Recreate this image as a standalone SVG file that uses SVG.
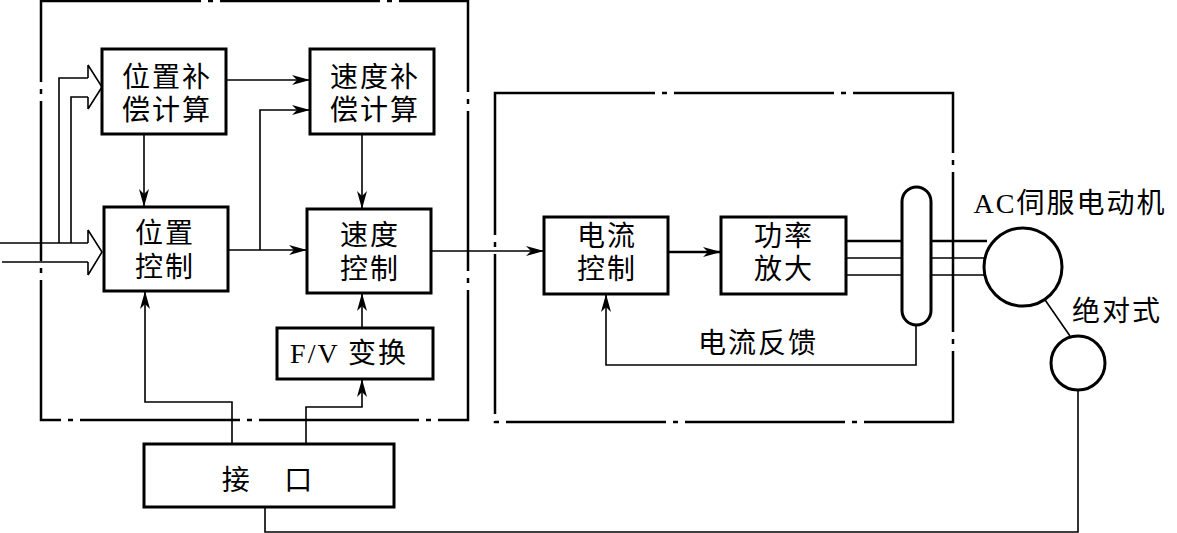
<svg xmlns="http://www.w3.org/2000/svg" width="1177" height="533" viewBox="0 0 1177 533">
<style>
.bx{fill:#fff;stroke:#000;stroke-width:3}
.dd{fill:none;stroke:#000;stroke-width:2.5;stroke-dasharray:160 7 5 7}
.ln{fill:none;stroke:#000;stroke-width:1.6}
.tk{fill:none;stroke:#000;stroke-width:2.6}
.t{font-family:"Noto Sans CJK SC","Noto Sans",sans-serif;font-size:28px;letter-spacing:2px;fill:#000;text-anchor:middle}
.s{font-family:"Liberation Serif",serif}
</style>
<defs>
<marker id="ar" markerUnits="userSpaceOnUse" markerWidth="20" markerHeight="12" refX="18" refY="5" orient="auto">
<path d="M0,0 L18,5 L0,10 L5,5 z" fill="#000"/>
</marker>
</defs>
<rect width="1177" height="533" fill="#fff"/>
<g id="boundaries">
<rect class="dd" x="41" y="1" width="427" height="419"/>
<rect class="dd" x="495" y="93" width="458" height="329"/>
</g>
<g id="connectors">
<path class="ln" d="M0,243 H88 M2,262 H88 M88,230 V243 M88,262 V275 M88,230 L102,252 L88,275"/>
<path class="ln" d="M59,243 V78 H88 M71,243 V97 H88 M88,65 V78 M88,97 V109 M88,65 L102,87 L88,109"/>
<path class="ln" d="M226,80 H310" marker-end="url(#ar)"/>
<path class="ln" d="M144,134 V207" marker-end="url(#ar)"/>
<path class="ln" d="M228,250 H307" marker-end="url(#ar)"/>
<path class="ln" d="M260,250 V110 H310" marker-end="url(#ar)"/>
<path class="ln" d="M362,134 V209" marker-end="url(#ar)"/>
<path class="ln" d="M431,251 H544" marker-end="url(#ar)"/>
<path class="tk" d="M668,252 H721" marker-end="url(#ar)"/>
<path class="ln" d="M362,328 V293" marker-end="url(#ar)"/>
<path class="ln" d="M232,444 V402 H145 V291" marker-end="url(#ar)"/>
<path class="ln" d="M306,444 V407 H362 V379" marker-end="url(#ar)"/>
<path class="tk" d="M846,241 H987"/>
<path class="ln" d="M846,258 H985 M846,275 H987"/>
<path class="ln" d="M916,325 V365 H606 V294" marker-end="url(#ar)"/>
<path class="ln" d="M1078,390 V532 H265 V507"/>
<path class="ln" d="M1023,268 L1070,336"/>
</g>
<g id="n-pos-comp"><rect class="bx" x="102" y="49" width="124" height="85"/><text class="t" y="87"><tspan x="167">位置补</tspan><tspan x="167" dy="33">偿计算</tspan></text></g>
<g id="n-spd-comp"><rect class="bx" x="310" y="49" width="124" height="85"/><text class="t" y="87"><tspan x="375">速度补</tspan><tspan x="375" dy="33">偿计算</tspan></text></g>
<g id="n-pos-ctrl"><rect class="bx" x="104" y="207" width="124" height="84"/><text class="t" y="243"><tspan x="165">位置</tspan><tspan x="165" dy="34">控制</tspan></text></g>
<g id="n-spd-ctrl"><rect class="bx" x="307" y="209" width="124" height="84"/><text class="t" y="245"><tspan x="370">速度</tspan><tspan x="370" dy="34">控制</tspan></text></g>
<g id="n-fv"><rect class="bx" x="277" y="328" width="156" height="51"/><text class="t" x="349" y="363"><tspan class="s">F/V</tspan> 变换</text></g>
<g id="n-if"><rect class="bx" x="144" y="444" width="250" height="63"/><text class="t" x="267" y="490" style="letter-spacing:0" xml:space="preserve">接　 口</text></g>
<g id="n-cur-ctrl"><rect class="bx" x="544" y="217" width="124" height="77"/><text class="t" y="246"><tspan x="607">电流</tspan><tspan x="607" dy="33">控制</tspan></text></g>
<g id="n-amp"><rect class="bx" x="721" y="217" width="125" height="77"/><text class="t" y="246"><tspan x="784">功率</tspan><tspan x="784" dy="33">放大</tspan></text></g>
<g id="n-sensor"><rect class="bx" x="902" y="187" width="29" height="138" rx="14.5"/></g>
<g id="n-motor"><circle class="bx" cx="1023" cy="267" r="39"/><text class="t" x="1070" y="213"><tspan class="s">AC</tspan>伺服电动机</text></g>
<g id="n-enc"><circle class="bx" cx="1078" cy="363" r="27"/><text class="t" x="1117" y="321">绝对式</text></g>
<g id="lbl"><text class="t" x="758" y="353">电流反馈</text></g>
</svg>
